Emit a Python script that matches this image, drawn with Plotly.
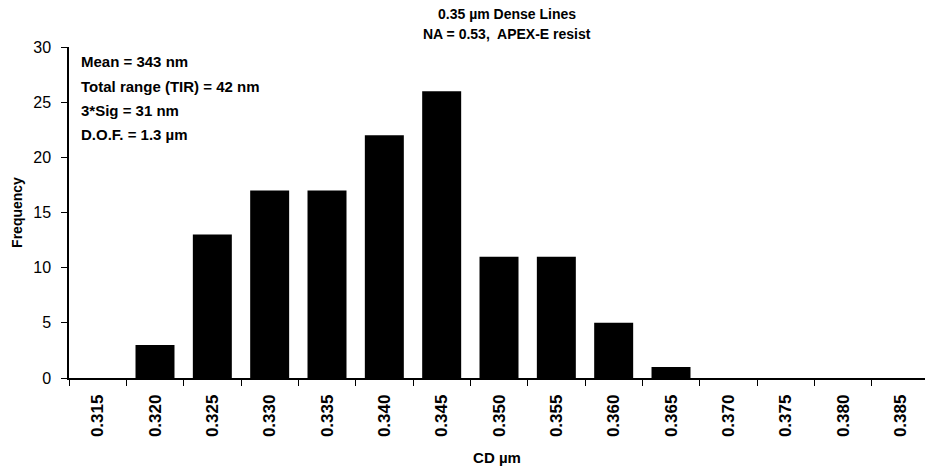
import plotly.graph_objects as go

# Data
categories = ["0.315", "0.320", "0.325", "0.330", "0.335", "0.340", "0.345",
              "0.350", "0.355", "0.360", "0.365", "0.370", "0.375", "0.380", "0.385"]
frequency = [0, 3, 13, 17, 17, 22, 26, 11, 11, 5, 1, 0, 0, 0, 0]
stats_lines = ["Mean = 343 nm", "Total range (TIR) = 42 nm", "3*Sig = 31 nm", "D.O.F. = 1.3 µm"]
title_lines = ["0.35 µm Dense Lines", "NA = 0.53,  APEX-E resist"]
y_ticks = [0, 5, 10, 15, 20, 25, 30]

FONT = "Liberation Sans, Arial, sans-serif"

fig = go.Figure()
fig.add_trace(go.Bar(
    x=categories, y=frequency,
    marker=dict(color="black", line=dict(width=0)),
    width=0.68,
))

W, H = 925, 470
L, R, T, B = 69, 0, 47, 92

def px_to_paper_x(px):
    return (px - L) / (W - L - R)

def px_to_paper_y(py):
    return (H - B - py) / (H - T - B)

annotations = []
# Title
for i, line in enumerate(title_lines):
    annotations.append(dict(
        text="<b>" + line + "</b>", xref="paper", yref="paper",
        x=px_to_paper_x(507), y=px_to_paper_y(14 + 20 * i),
        xanchor="center", yanchor="middle", showarrow=False,
        font=dict(family=FONT, size=14, color="black"),
    ))
# Stats box
stat_y = [62, 86, 110, 134]
for line, py in zip(stats_lines, stat_y):
    annotations.append(dict(
        text="<b>" + line + "</b>", xref="paper", yref="paper",
        x=px_to_paper_x(79), y=px_to_paper_y(py),
        xanchor="left", yanchor="middle", showarrow=False,
        font=dict(family=FONT, size=15, color="black"),
    ))

fig.update_layout(
    width=W, height=H,
    margin=dict(l=L, r=R, t=T, b=B, pad=0),
    paper_bgcolor="white", plot_bgcolor="white",
    showlegend=False,
    bargap=0.32,
    annotations=annotations,
    font=dict(family=FONT, color="black"),
)

fig.update_xaxes(
    type="category",
    range=[-0.5, 14.43],
    tickson="boundaries",
    ticks="outside", ticklen=6, tickwidth=1.2, tickcolor="black",
    showline=True, linecolor="black", linewidth=1.5,
    showgrid=False, zeroline=False,
    tickangle=-90,
    tickfont=dict(family=FONT, size=17, color="black", weight="bold"),
    ticklabelstandoff=8,
    title=dict(text="<b>CD µm</b>", font=dict(family=FONT, size=15, color="black"), standoff=16),
    automargin=False,
)
fig.update_yaxes(
    range=[0, 30],
    tickvals=y_ticks,
    ticks="outside", ticklen=6, tickwidth=1.2, tickcolor="black",
    showline=True, linecolor="black", linewidth=1.5,
    showgrid=False, zeroline=False,
    tickfont=dict(family=FONT, size=16, color="black"),
    ticklabelstandoff=7,
    title=dict(text="<b>Frequency</b>", font=dict(family=FONT, size=14, color="black"), standoff=7),
    automargin=False,
)

fig.write_html("out.html")
